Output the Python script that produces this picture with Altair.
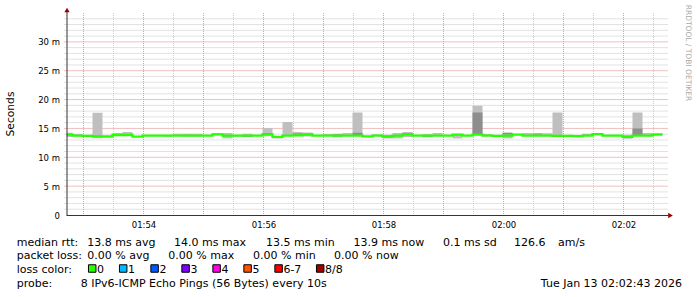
import altair as alt
import pandas as pd

# ---------------- data ----------------
# time axis in seconds of day (UTC): window 01:52:43 - 02:02:43
T_START = 6763
T_END = 7363
FIRST_BAR = 6759          # 01:52:39, bars are 10 s wide
STEP = 10

median = [13.92, 13.75, 13.72, 13.64, 13.60, 13.86, 13.86, 13.58, 13.75, 13.75,
          13.75, 13.75, 13.75, 13.75, 13.75, 13.98, 13.75, 13.75, 13.75, 13.75,
          13.98, 13.52, 13.75, 13.81, 13.95, 13.75, 13.75, 13.75, 13.75, 13.75,
          13.64, 13.75, 13.60, 13.75, 13.98, 13.75, 13.75, 13.75, 13.75, 13.92,
          13.75, 13.92, 13.75, 13.70, 13.75, 13.92, 13.75, 13.75, 13.75, 13.72,
          13.70, 13.65, 13.75, 14.02, 13.75, 13.75, 13.52, 13.75, 13.75, 13.93]
smoke_lo = [13.50, 13.65, 13.66, 13.28, 13.54, 13.80, 13.80, 13.52, 13.70, 13.70,
            13.58, 13.70, 13.58, 13.58, 13.70, 13.90, 13.25, 13.60, 13.50, 13.70,
            13.65, 13.25, 13.70, 13.75, 13.60, 13.70, 13.70, 13.46, 13.70, 13.70,
            13.58, 13.70, 13.25, 13.25, 13.46, 13.70, 13.46, 13.70, 13.70, 13.25,
            13.70, 13.85, 13.70, 13.55, 13.25, 13.86, 13.70, 13.70, 13.70, 13.50,
            13.64, 13.58, 13.70, 13.96, 13.70, 13.70, 13.23, 13.70, 13.70, 13.88]
smoke_hi = [14.25, 14.05, 13.80, 17.72, 13.68, 14.20, 14.38, 13.65, 13.80, 13.80,
            13.82, 14.09, 14.09, 14.09, 13.80, 14.15, 14.21, 13.85, 14.09, 13.80,
            15.08, 13.60, 16.12, 14.38, 14.30, 13.80, 14.04, 14.09, 14.21, 17.75,
            13.70, 13.92, 13.90, 14.21, 14.38, 13.80, 14.04, 14.21, 13.80, 14.04,
            13.80, 18.95, 14.04, 13.78, 14.27, 13.98, 14.21, 14.21, 14.15, 17.75,
            13.76, 13.72, 14.09, 14.10, 13.80, 13.80, 13.92, 17.75, 14.21, 14.15]
dark_idx = [6, 18, 20, 23, 27, 29, 31, 34, 36, 41, 43, 44, 47, 49, 57]
dark_lo = [13.85, 13.55, 14.00, 13.90, 13.95, 13.80, 13.85, 14.00, 13.50, 13.95,
           13.55, 13.95, 13.95, 13.50, 13.85]
dark_hi = [14.05, 13.65, 14.20, 14.10, 14.05, 14.27, 13.92, 14.10, 13.60, 17.75,
           13.65, 14.27, 14.09, 13.60, 14.97]

x_label_values = [6840, 6960, 7080, 7200, 7320]          # 01:54 ... 02:02
y_label_values = [0, 5, 10, 15, 20, 25, 30]
y_minor = [v for v in range(1, 35) if v % 5 != 0]
y_major = [5, 10, 15, 20, 25, 30]
x_major = list(range(6780, 7363, 60))                   # every minute
x_minor = list(range(6810, 7363, 60))                   # half minutes

row1 = ["median rtt:", "13.8 ms avg", "14.0 ms max", "13.5 ms min",
        "13.9 ms now", "0.1 ms sd", "126.6", "am/s"]
row2 = ["packet loss:", "0.00 % avg", "0.00 % max", "0.00 % min", "0.00 % now"]
row3_title = "loss color:"
loss_labels = ["0", "1", "2", "3", "4", "5", "6-7", "8/8"]
loss_colors = ["#26ff00", "#00b8ff", "#0059ff", "#7e00ff",
               "#ff00e9", "#ff5500", "#ff0000", "#a10000"]
row4 = ["probe:", "8 IPv6-ICMP Echo Pings (56 Bytes) every 10s"]
stamp = "Tue Jan 13 02:02:43 2026"
y_title = "Seconds"
watermark = "RRDTOOL / TOBI OETIKER"

# ---------------- layout ----------------
W, H = 600, 202
PL, PT = 66.5, 13
FONT = "DejaVu Sans"
row1_x = [16.7, 87.3, 174, 266, 353.5, 443, 514, 558]
row2_x = [16.7, 87.3, 168.3, 253, 334]
swatch_x = [92.2, 123.2, 154.6, 185.6, 216.6, 247.6, 278.6, 320.2]
row4_x = [16.7, 80.7]
base_y = [245.7, 259.3, 272.9, 286.5]

n = len(median)
bars = pd.DataFrame({
    "t0": [max(FIRST_BAR + STEP * i, T_START) for i in range(n)],
    "t1": [FIRST_BAR + STEP * (i + 1) for i in range(n)],
    "lo": smoke_lo, "hi": smoke_hi,
})
dark = pd.DataFrame({
    "t0": [max(FIRST_BAR + STEP * i, T_START) for i in dark_idx],
    "t1": [FIRST_BAR + STEP * (i + 1) for i in dark_idx],
    "lo": dark_lo, "hi": dark_hi,
})
line_df = pd.DataFrame({
    "t": list(bars["t0"]) + [FIRST_BAR + STEP * n],
    "v": median + [median[-1]],
})

xs = alt.Scale(domain=[T_START, T_END], nice=False, zero=False)
ys = alt.Scale(domain=[0, 35], nice=False, zero=False)
XA = alt.Axis(values=x_label_values, labelExpr="utcFormat(datum.value * 1000, '%H:%M')",
              grid=False, ticks=False, domain=False, labelPadding=5, labelFontSize=8.5,
              labelFont=FONT, labelColor="#000000", title=None, labelFlush=False)
YA = alt.Axis(values=y_label_values,
              labelExpr="datum.value == 0 ? '0\u00a0\u00a0' : datum.value + ' m'",
              grid=False, ticks=False, domain=False, labelPadding=7, labelFontSize=8.5,
              labelFont=FONT, labelColor="#000000", title=None)

def X(f):
    return alt.X(f, scale=xs, axis=XA)

def Y(f):
    return alt.Y(f, scale=ys, axis=YA)

hminor = alt.Chart(pd.DataFrame({"v": y_minor})).mark_rule(
    color="#c4c4c4", strokeDash=[1, 1], strokeWidth=1).encode(
    y=Y("v:Q"), x=alt.value(-2), x2=alt.value(W + 2))
hmajor = alt.Chart(pd.DataFrame({"v": y_major})).mark_rule(
    color="#e08080", strokeDash=[1, 1], strokeWidth=1).encode(
    y=Y("v:Q"), x=alt.value(-2), x2=alt.value(W + 2))
vminor = alt.Chart(pd.DataFrame({"t": x_minor})).mark_rule(
    color="#cccccc", strokeDash=[1, 1], strokeWidth=1).encode(
    x=X("t:Q"), y=alt.value(0), y2=alt.value(H + 2))
vmajor = alt.Chart(pd.DataFrame({"t": x_major})).mark_rule(
    color="#e49a9a", strokeDash=[1, 1], strokeWidth=1).encode(
    x=X("t:Q"), y=alt.value(0), y2=alt.value(H + 2))

smoke = alt.Chart(bars).mark_rect(color="#bfbfbf", clip=True).encode(
    x=X("t0:Q"), x2="t1:Q", y=Y("lo:Q"), y2="hi:Q")
smoke_dark = alt.Chart(dark).mark_rect(color="#8e8e8e", clip=True).encode(
    x=X("t0:Q"), x2="t1:Q", y=Y("lo:Q"), y2="hi:Q")
med = alt.Chart(line_df).mark_line(
    interpolate="step-after", color="#26ff00", strokeWidth=2.3, clip=True).encode(
    x=X("t:Q"), y=Y("v:Q"))

yaxis = alt.Chart(pd.DataFrame({"a": [0]})).mark_rule(color="#333333").encode(
    x=alt.value(0.5), y=alt.value(-1), y2=alt.value(H))
xaxis = alt.Chart(pd.DataFrame({"a": [0]})).mark_rule(color="#333333").encode(
    x=alt.value(0), x2=alt.value(W + 2), y=alt.value(H + 0.5))
arrow_up = alt.Chart(pd.DataFrame({"a": [0]})).mark_point(
    shape="triangle-up", filled=True, color="#9b0000", size=28, opacity=1).encode(
    x=alt.value(0.5), y=alt.value(-3))
arrow_right = alt.Chart(pd.DataFrame({"a": [0]})).mark_point(
    shape="triangle-right", filled=True, color="#9b0000", size=28, opacity=1).encode(
    x=alt.value(W + 4), y=alt.value(H + 0.5))

# legend text table
txt_rows = []
for s, x in zip(row1, row1_x):
    txt_rows.append((s, x, base_y[0], "left"))
for s, x in zip(row2, row2_x):
    txt_rows.append((s, x, base_y[1], "left"))
txt_rows.append((row3_title, 16.7, base_y[2], "left"))
for s, x in zip(loss_labels, swatch_x):
    txt_rows.append((s, x + 4.8, base_y[2], "left"))
for s, x in zip(row4, row4_x):
    txt_rows.append((s, x, base_y[3], "left"))
txt_rows.append((stamp, 682, base_y[3], "right"))
txt = pd.DataFrame(txt_rows, columns=["s", "px", "py", "al"])
txt["px"] = txt["px"] - PL
txt["py"] = txt["py"] - PT

left_txt = alt.Chart(txt[txt.al == "left"]).mark_text(
    font=FONT, fontSize=11, color="#000000", align="left", baseline="alphabetic").encode(
    x=alt.X("px:Q", scale=None), y=alt.Y("py:Q", scale=None), text="s:N")
right_txt = alt.Chart(txt[txt.al == "right"]).mark_text(
    font=FONT, fontSize=11, color="#000000", align="right", baseline="alphabetic").encode(
    x=alt.X("px:Q", scale=None), y=alt.Y("py:Q", scale=None), text="s:N")

sw = pd.DataFrame({"px": [x - PL for x in swatch_x],
                   "py": [268.5 - PT] * len(swatch_x),
                   "c": loss_colors})
swatches = alt.Chart(sw).mark_square(size=56, stroke="#000000", strokeWidth=1, opacity=1).encode(
    x=alt.X("px:Q", scale=None), y=alt.Y("py:Q", scale=None),
    fill=alt.Fill("c:N", scale=None))

ytitle = alt.Chart(pd.DataFrame({"s": [y_title]})).mark_text(
    font=FONT, fontSize=10.7, color="#000000", angle=270, align="center", baseline="middle").encode(
    x=alt.value(11 - PL), y=alt.value(114 - PT), text="s:N")
wmark = alt.Chart(pd.DataFrame({"s": [watermark]})).mark_text(
    font=FONT, fontSize=7.5, color="#aaaaaa", angle=90, align="center", baseline="middle").encode(
    x=alt.value(687.5 - PL), y=alt.value(53 - PT), text="s:N")

chart = alt.layer(
    hminor, hmajor, vminor, vmajor, smoke, smoke_dark, med,
    yaxis, xaxis, arrow_up, arrow_right,
    left_txt, right_txt, swatches, ytitle, wmark,
).properties(
    width=W, height=H,
    padding={"left": PL, "top": PT, "right": 697 - W - PL, "bottom": 297 - H - PT},
    autosize=alt.AutoSizeParams(type="none"),
    background="white",
).configure_view(stroke=None)

chart.save("out.html", embed_options={"renderer": "svg", "actions": False})
